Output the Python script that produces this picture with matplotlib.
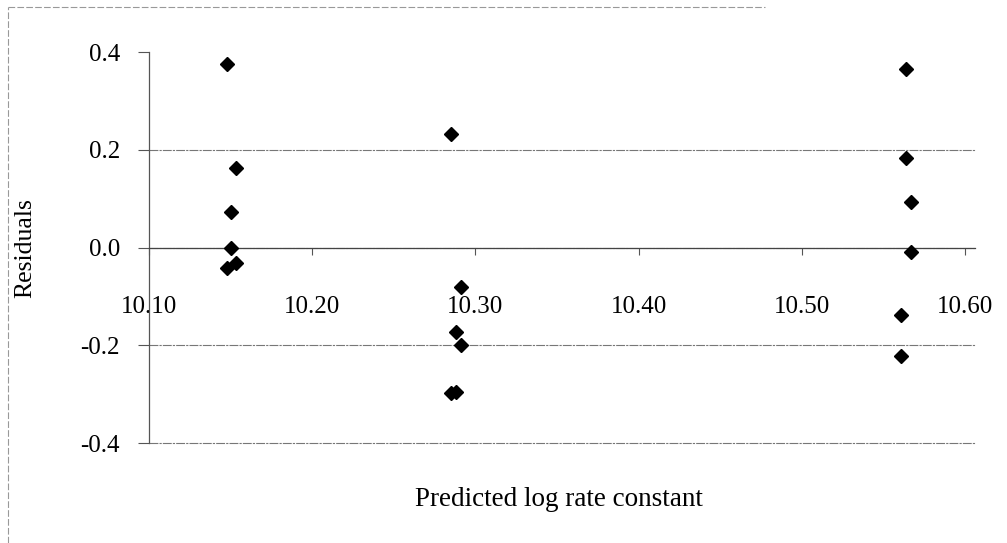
import matplotlib.pyplot as plt
from matplotlib.lines import Line2D

plt.rcParams['font.family'] = ['Liberation Serif', 'DejaVu Serif']

# predicted log rate constant vs residuals, three groups
pred_x = [10.148, 10.153, 10.150, 10.150, 10.153, 10.148,
          10.285, 10.291, 10.288, 10.291, 10.288, 10.285,
          10.564, 10.564, 10.567, 10.567, 10.561, 10.561]
resid = [0.376, 0.163, 0.073, 0.000, -0.031, -0.041,
         0.233, -0.080, -0.173, -0.200, -0.296, -0.298,
         0.365, 0.184, 0.094, -0.010, -0.137, -0.222]

x_ticks = [10.10, 10.20, 10.30, 10.40, 10.50, 10.60]
y_ticks = [-0.4, -0.2, 0.0, 0.2, 0.4]

fig = plt.figure(figsize=(10.07, 5.43), dpi=100)
ax = fig.add_axes([0.148, 0.184, 0.82, 0.72])

ax.plot(pred_x, resid, linestyle='none', marker='D', markersize=7,
        color='black', zorder=3)

ax.set_xlim(10.10, 10.606)
ax.set_ylim(-0.4, 0.4)
ax.set_xticks(x_ticks)
ax.set_xticklabels(['%.2f' % v for v in x_ticks])
ax.set_yticks(y_ticks)
ax.set_yticklabels(['%.1f' % v for v in y_ticks])

ax.spines['bottom'].set_position(('data', 0))
ax.spines['top'].set_visible(False)
ax.spines['right'].set_visible(False)
ax.spines['left'].set_color('#555555')
ax.spines['left'].set_linewidth(0.9)
ax.spines['bottom'].set_color('#444444')
ax.spines['bottom'].set_linewidth(0.9)

# horizontal gridlines (none at the top value, as in the original)
for yv in y_ticks[:-1]:
    ax.axhline(yv, color='#777777', linewidth=0.8,
               linestyle=(0, (8, 1, 2, 1)), clip_on=False, zorder=1)

ax.tick_params(axis='x', direction='out', length=5, pad=30, labelsize=18,
               color='#555555')
ax.tick_params(axis='y', direction='out', length=8, pad=13, labelsize=18,
               color='#555555')

ax.set_ylabel('Residuals', fontsize=18.5)
ax.yaxis.set_label_coords(-0.137, 0.5)
fig.text(0.555, 0.080, 'Predicted log rate constant', fontsize=19.5,
         ha='center', va='center')

# faint chart-area frame (left and top edges)
frame_style = dict(color='#999999', linewidth=0.8, linestyle=(0, (6, 2)))
fig.add_artist(Line2D([0.008, 0.008], [0.0, 0.987], **frame_style))
fig.add_artist(Line2D([0.008, 0.76], [0.987, 0.987], **frame_style))

fig.savefig('out.png', dpi=100)
